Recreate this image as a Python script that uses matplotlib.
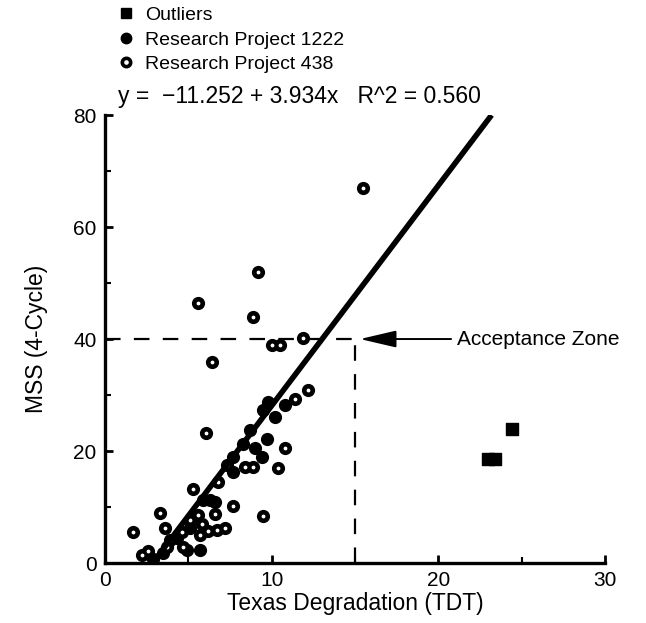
import numpy as np
import matplotlib.pyplot as plt
from matplotlib.lines import Line2D
from matplotlib.ticker import MultipleLocator

plt.rcParams['font.family'] = ['Liberation Sans', 'DejaVu Sans']

# Research Project 438 (ring markers)
x438 = [6.4, 10.0, 10.5, 11.9, 6.05, 12.2, 11.4, 10.8, 10.4, 8.4, 8.9, 7.3, 6.8, 5.3,
        7.7, 9.5, 3.3, 1.66, 3.6, 6.6, 5.6, 5.1, 5.8, 4.6, 5.7, 6.2, 6.7, 7.2, 3.9,
        3.7, 4.7, 2.6, 2.2, 9.2, 5.6, 8.9, 15.5]
y438 = [35.9, 38.9, 38.9, 40.2, 23.3, 30.9, 29.3, 20.5, 17.0, 17.2, 17.1, 17.5, 14.5, 13.2,
        10.1, 8.4, 9.0, 5.6, 6.25, 8.75, 8.6, 7.7, 7.0, 5.6, 5.0, 5.8, 5.9, 6.2, 4.1,
        2.9, 2.9, 2.2, 1.4, 51.9, 46.5, 43.9, 67.0]

# Research Project 1222 (filled markers)
x1222 = [10.8, 9.8, 10.2, 9.5, 8.7, 9.7, 9.0, 9.4, 8.3, 7.7, 7.7, 6.3, 6.6, 5.9,
         4.9, 5.7, 2.9, 3.5, 5.1, 4.3]
y1222 = [28.2, 28.8, 26.0, 27.3, 23.7, 22.1, 20.6, 18.9, 21.3, 19.0, 16.3, 11.3, 10.9, 11.3,
         2.3, 2.4, 0.8, 1.8, 6.25, 4.5]

# outliers
xout = [23.0, 23.4, 24.4]
yout = [18.5, 18.5, 23.9]

b0, b1, r2 = -11.252, 3.934, 0.560
limit_x, limit_y = 15, 40

fig = plt.figure(figsize=(6.46, 6.23), dpi=100)
ax = fig.add_axes([0.1625, 0.0963, 0.774, 0.719])

# rings: black disc with a small white centre
ax.scatter(x438, y438, s=72, color='black', zorder=3)
ax.scatter(x438, y438, s=3, color='white', zorder=3.1)
ax.scatter(x1222, y1222, s=72, color='black', zorder=3)
ax.scatter(xout, yout, s=66, marker='s', color='black', zorder=3)

# regression line, y = 0 up to y = 80
xl = np.array([-b0 / b1, (80 - b0) / b1])
ax.plot(xl, b0 + b1 * xl, color='black', lw=4, solid_capstyle='butt', zorder=4)

# acceptance zone
ax.plot([0, limit_x], [limit_y, limit_y], color='black', lw=1.6, dashes=(7, 6))
ax.plot([limit_x, limit_x], [0, limit_y], color='black', lw=1.6, dashes=(7, 6))
ax.annotate('Acceptance Zone', xy=(15.3, limit_y), xytext=(21.1, limit_y),
            fontsize=15, va='center', ha='left',
            arrowprops=dict(arrowstyle='-|>,head_length=1.5,head_width=0.35',
                            color='black', lw=1.4, shrinkA=2, shrinkB=0))

ax.set_xlim(0, 30)
ax.set_ylim(0, 80)
ax.xaxis.set_major_locator(MultipleLocator(10))
ax.xaxis.set_minor_locator(MultipleLocator(5))
ax.yaxis.set_major_locator(MultipleLocator(20))
ax.yaxis.set_minor_locator(MultipleLocator(10))
ax.tick_params(which='major', direction='in', length=6, width=2, labelsize=15, pad=6)
ax.tick_params(which='minor', direction='in', length=4, width=1.5)
for s in ['top', 'right']:
    ax.spines[s].set_visible(False)
for s in ['left', 'bottom']:
    ax.spines[s].set_linewidth(2.4)
ax.set_xlabel('Texas Degradation (TDT)', fontsize=16.5, labelpad=1)
ax.set_ylabel('MSS (4-Cycle)', fontsize=16.5, labelpad=18)

handles = [
    Line2D([], [], ls='none', marker='s', ms=7, color='black'),
    Line2D([], [], ls='none', marker='o', ms=7.5, color='black'),
    Line2D([], [], ls='none', marker='o', ms=6, mfc='white', mec='black', mew=2.6),
]
fig.legend(handles, ['Outliers', 'Research Project 1222', 'Research Project 438'],
           loc='upper left', bbox_to_anchor=(0.165, 1.008), frameon=False,
           fontsize=14, handlelength=0.8, handletextpad=0.6, labelspacing=0.35,
           borderaxespad=0.2)
fig.text(0.183, 0.845, 'y =  \u221211.252 + 3.934x   R^2 = %.3f' % r2,
         fontsize=16.5, ha='left', va='center')

fig.savefig('out.png', dpi=100)
